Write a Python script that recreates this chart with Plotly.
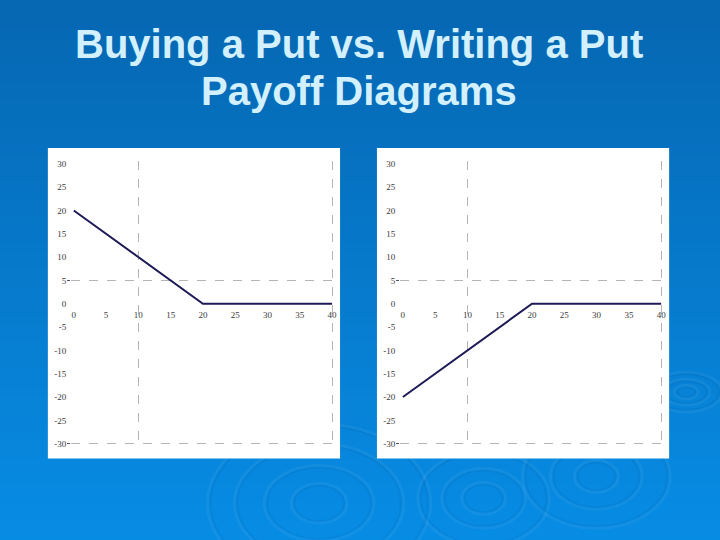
import plotly.graph_objects as go

W, H = 720, 540

# ---- data ----
stock_price = [0, 20, 40]
buy_put_payoff = [20, 0, 0]
write_put_payoff = [-20, 0, 0]

y_ticks = [30, 25, 20, 15, 10, 5, 0, -5, -10, -15, -20, -25, -30]
y_tick_labels = ["30", "25", "20", "15", "10", "5", "0", "-5", "-10", "-15", "-20", "-25", "-30"]
x_ticks = [0, 5, 10, 15, 20, 25, 30, 35, 40]
x_tick_labels = ["0", "5", "10", "15", "20", "25", "30", "35", "40"]
grid_x = [10, 40]
grid_y = [5, -30]
title_lines = ["Buying a Put vs. Writing a Put", "Payoff Diagrams"]


def px(v):
    return v / W


def py(v):
    return 1 - v / H


shapes = []
# background gradient
top = (6, 103, 178)
bot = (7, 140, 228)
n = 60
for i in range(n):
    t = i / (n - 1)
    c = tuple(int(round(top[k] + (bot[k] - top[k]) * t)) for k in range(3))
    y1 = 1 - i / n + (0.01 if i == 0 else 0)
    y0 = 1 - (i + 1) / n - (0.01 if i == n - 1 else 0.002)
    shapes.append(dict(type="rect", xref="paper", yref="paper", layer="below",
                       x0=-0.01, x1=1.01, y0=y0, y1=y1,
                       fillcolor="rgb(%d,%d,%d)" % c, line=dict(width=0)))

# ripples
ripples = [
    (320, 505, [(28, 20), (55, 38), (85, 60), (112, 80)]),
    (485, 500, [(22, 16), (42, 30), (66, 48)]),
    (598, 478, [(22, 16), (46, 33), (74, 52)]),
    (688, 393, [(12, 7), (24, 13), (36, 20)]),
]
for cx, cy, radii in ripples:
    for rx, ry in radii:
        shapes.append(dict(type="circle", xref="paper", yref="paper", layer="below",
                           x0=px(cx - rx), x1=px(cx + rx), y0=py(cy + ry), y1=py(cy - ry),
                           line=dict(color="rgba(255,255,255,0.05)", width=3),
                           fillcolor="rgba(0,0,0,0)"))
        shapes.append(dict(type="circle", xref="paper", yref="paper", layer="below",
                           x0=px(cx - rx + 3), x1=px(cx + rx - 3), y0=py(cy + ry - 2), y1=py(cy - ry + 2),
                           line=dict(color="rgba(0,60,130,0.08)", width=2),
                           fillcolor="rgba(0,0,0,0)"))

# white panels
for x0, x1 in [(48, 341), (378, 671)]:
    shapes.append(dict(type="rect", xref="paper", yref="paper", layer="below",
                       x0=px(x0), x1=px(x1), y0=py(460), y1=py(147),
                       fillcolor="white", line=dict(width=0)))

fig = go.Figure()
line_style = dict(color="#1d1a55", width=2)
fig.add_trace(go.Scatter(x=stock_price, y=buy_put_payoff, mode="lines", line=line_style,
                         xaxis="x", yaxis="y", showlegend=False, hoverinfo="skip"))
fig.add_trace(go.Scatter(x=stock_price, y=write_put_payoff, mode="lines", line=line_style,
                         xaxis="x3", yaxis="y3", showlegend=False, hoverinfo="skip"))
# invisible traces so that the overlay (grid / label) axes are drawn
for xa_, ya_, ys in [("x2", "y2", buy_put_payoff), ("x4", "y4", write_put_payoff)]:
    fig.add_trace(go.Scatter(x=stock_price, y=ys, mode="lines",
                             line=dict(color="rgba(0,0,0,0)", width=0),
                             xaxis=xa_, yaxis=ya_, showlegend=False, hoverinfo="skip"))

tick_font = dict(family="Liberation Serif", size=9, color="#3a3a3a")
grid_col = "#b4b4b4"

# pixel scale of the reference plot areas
x_pad, y_pad = 0.4, 0.6          # data units of padding so edge gridlines survive
ppx = (333 - 74) / 40.0
ppy = (445 - 163) / 60.0
ydom = [py(445 + y_pad * ppy), py(163 - y_pad * ppy)]
zero_pos = (ydom[0] + ydom[1]) / 2
XR = [-x_pad, 40 + x_pad]
YR = [-30 - y_pad, 30 + y_pad]

layout = dict(width=W, height=H, margin=dict(l=0, r=0, t=0, b=0),
              paper_bgcolor="rgb(6,120,200)", plot_bgcolor="rgba(0,0,0,0)",
              shapes=shapes, showlegend=False)

for idx, (xl, xr) in enumerate([(74, 333), (404, 663)]):
    a = 1 + 2 * idx  # 1 or 3
    b = a + 1
    xa = "xaxis" if a == 1 else "xaxis%d" % a
    ya = "yaxis" if a == 1 else "yaxis%d" % a
    xn = "x" if a == 1 else "x%d" % a
    yn = "y" if a == 1 else "y%d" % a
    dom = [px(xl - x_pad * ppx), px(xr + x_pad * ppx)]
    # grid x axis
    layout[xa] = dict(domain=dom, range=XR, anchor=yn, tickvals=grid_x,
                      showticklabels=False, ticks="", showgrid=True, gridcolor=grid_col,
                      griddash="dash", gridwidth=1, zeroline=False, showline=False,
                      fixedrange=True)
    # label y axis
    layout[ya] = dict(domain=ydom, range=YR, anchor=xn, tickvals=y_ticks,
                      ticktext=y_tick_labels, tickfont=tick_font, ticks="",
                      showgrid=False, zeroline=False, showline=False, fixedrange=True,
                      ticklabelstandoff=4)
    # grid y axis overlay
    layout["yaxis%d" % b] = dict(overlaying=yn, range=YR, anchor=xn, side="left",
                                 tickvals=grid_y, showticklabels=False, ticks="outside",
                                 ticklen=3, tickcolor="#555555", showgrid=True,
                                 gridcolor=grid_col, griddash="dash", gridwidth=1,
                                 zeroline=False, showline=False, fixedrange=True)
    # x label axis at y = 0
    layout["xaxis%d" % b] = dict(overlaying=xn, range=XR, anchor="free",
                                 position=zero_pos, side="bottom", tickvals=x_ticks,
                                 ticktext=x_tick_labels, tickfont=tick_font, ticks="",
                                 showgrid=False, zeroline=False, showline=False,
                                 fixedrange=True, ticklabelstandoff=4)

annotations = []
for i, txt in enumerate(title_lines):
    annotations.append(dict(text="<b>" + txt + "</b>", xref="paper", yref="paper",
                            x=0.5, y=py(42 + 48 * i),
                            xanchor="center", yanchor="middle", showarrow=False,
                            font=dict(family="Liberation Sans", size=40, color="#d3f0ff")))
layout["annotations"] = annotations

fig.update_layout(**layout)
fig.write_html("out.html", config={"displayModeBar": False},
               post_script="document.body.style.margin='0';document.body.style.overflow='hidden';")
